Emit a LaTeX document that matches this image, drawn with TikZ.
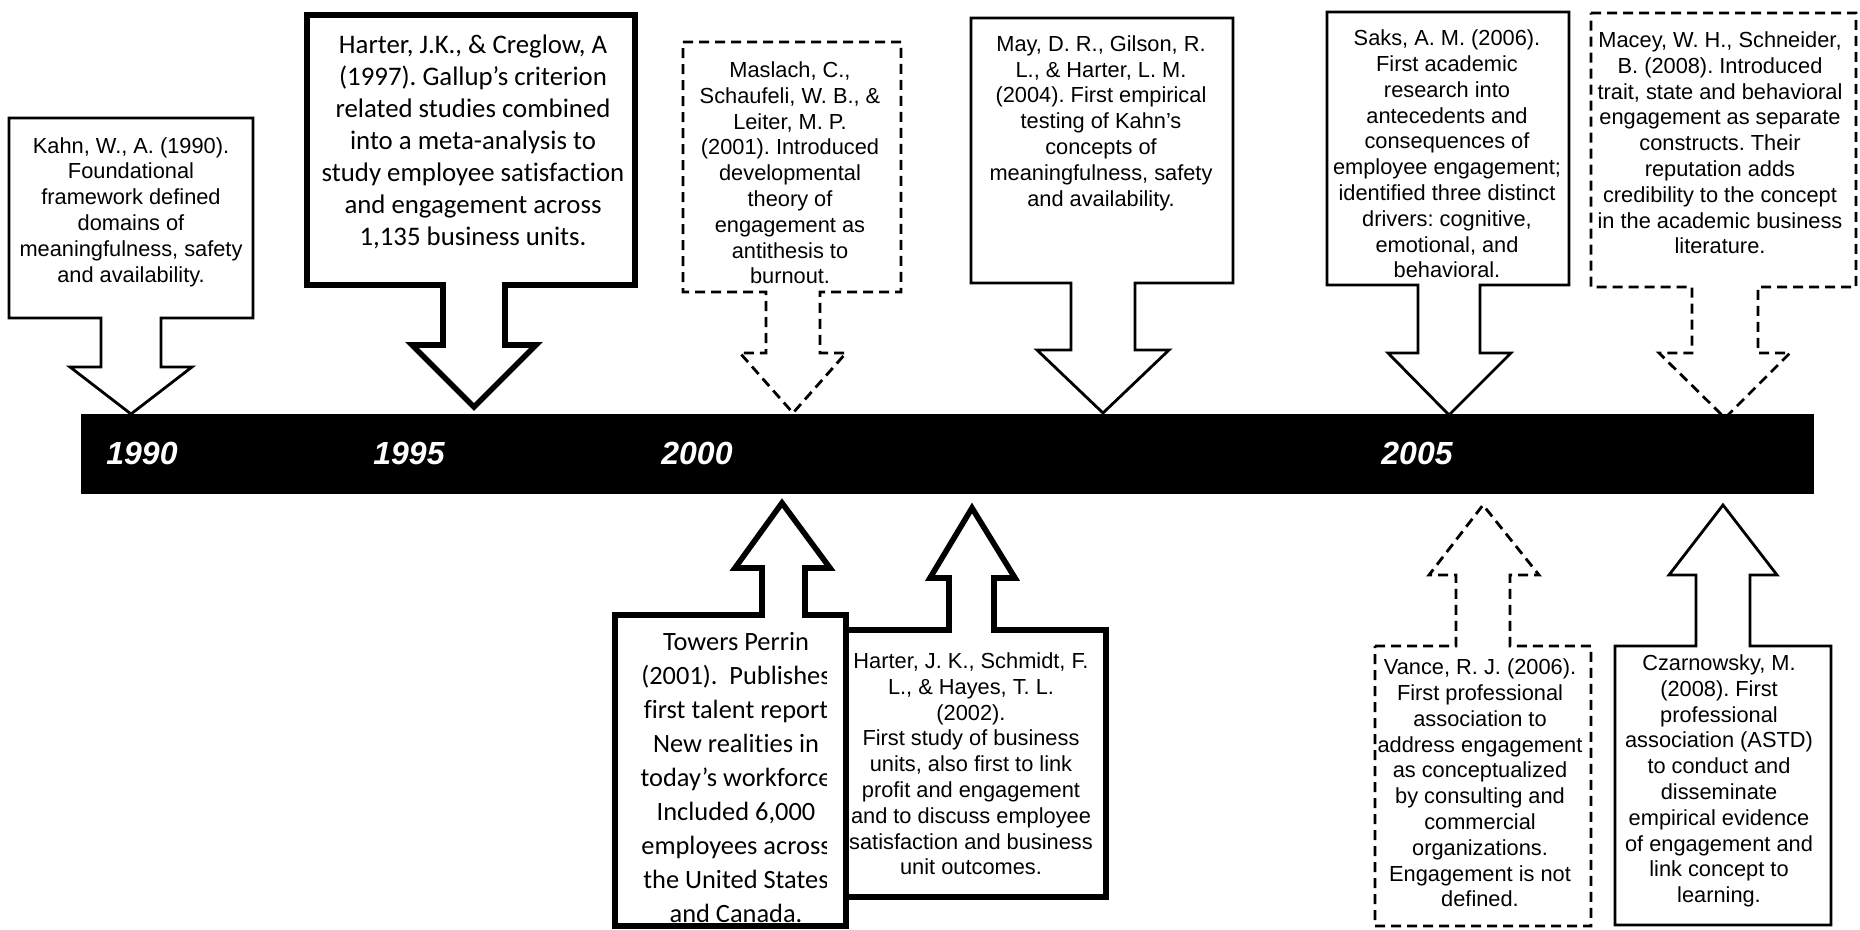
\documentclass[tikz,border=0pt]{standalone}
\usepackage{fontspec}
\setmainfont{Liberation Sans}
\newfontfamily\calibrifont[Ligatures=NoCommon]{Carlito}
\usepackage{tikz}
\frenchspacing

\tikzset{
  solidbox/.style={draw=black, fill=white, line width=1.4pt},
  heavybox/.style={draw=black, fill=white, line width=2.8pt},
  dashbox/.style={draw=black, fill=white, line width=1.4pt, dash pattern=on 5pt off 3pt},
  artext/.style={align=center, inner sep=0pt, font=\fontsize{10.9}{12.9}\selectfont},
  cbtext/.style={align=center, inner sep=0pt, font=\calibrifont\fontsize{13.4}{16}\selectfont},
  yearlabel/.style={text=white, inner sep=0pt, font=\fontsize{16}{18}\selectfont\bfseries\itshape}
}

\begin{document}
\begin{tikzpicture}[x=0.5pt, y=-0.5pt]
             \useasboundingbox (0,0) rectangle (1860,930);

             % callouts above the bar
             \draw[solidbox] (9,118) -- (253,118) -- (253,318) -- (161,318) -- (161,367) -- (192,367)
                   -- (131,414) -- (70,367) -- (101,367) -- (101,318) -- (9,318) -- cycle;
             \node[artext] (kahn) at (131,212) {Kahn, W., A. (1990).\\ Foundational\\ framework defined\\ domains of\\ meaningfulness, safety\\ and availability.};

             \draw[heavybox] (307,15) -- (635,15) -- (635,285) -- (505,285) -- (505,345) -- (536,345)
                   -- (474,407) -- (412,345) -- (443,345) -- (443,285) -- (307,285) -- cycle;
             \node[cbtext] (harter97) at (473,142) {Harter, J.K., \& Creglow, A\\ (1997). Gallup’s criterion\\ related studies combined\\ into a meta-analysis to\\ study employee satisfaction\\ and engagement across\\ 1,135 business units.};

             \draw[dashbox] (683,42) -- (901,42) -- (901,292) -- (820,292) -- (820,353) -- (846,353)
                   -- (793,413) -- (740,353) -- (766,353) -- (766,292) -- (683,292) -- cycle;
             \node[artext] (maslach) at (790,173) {Maslach, C.,\\ Schaufeli, W. B., \&\\ Leiter, M. P.\\ (2001). Introduced\\ developmental\\ theory of\\ engagement as\\ antithesis to\\ burnout.};

             \draw[solidbox] (971,18) -- (1233,18) -- (1233,283) -- (1135,283) -- (1135,350) -- (1169,350)
                   -- (1103,413) -- (1037,350) -- (1071,350) -- (1071,283) -- (971,283) -- cycle;
             \node[artext] (may) at (1101,123) {May, D. R., Gilson, R.\\ L., \& Harter, L. M.\\ (2004). First empirical\\ testing of Kahn’s\\ concepts of\\ meaningfulness, safety\\ and availability.};

             \draw[solidbox] (1327,12) -- (1569,12) -- (1569,285) -- (1480,285) -- (1480,353) -- (1511,353)
                   -- (1449,415) -- (1388,353) -- (1418,353) -- (1418,285) -- (1327,285) -- cycle;
             \node[artext] (saks) at (1447,154) {Saks, A. M. (2006).\\ First academic\\ research into\\ antecedents and\\ consequences of\\ employee engagement;\\ identified three distinct\\ drivers: cognitive,\\ emotional, and\\ behavioral.};

             \draw[dashbox] (1591,13) -- (1856,13) -- (1856,287) -- (1758,287) -- (1758,353) -- (1790,353)
                   -- (1725,418) -- (1659,353) -- (1692,353) -- (1692,287) -- (1591,287) -- cycle;
             \node[artext] (macey) at (1720,143) {Macey, W. H., Schneider,\\ B. (2008). Introduced\\ trait, state and behavioral\\ engagement as separate\\ constructs. Their\\ reputation adds\\ credibility to the concept\\ in the academic business\\ literature.};

             % the time line
             \fill[black] (81,414) rectangle (1814,494);
             \node[yearlabel] (y1990) at (142,453) {1990};
             \node[yearlabel] (y1995) at (409,453) {1995};
             \node[yearlabel] (y2000) at (697,453) {2000};
             \node[yearlabel] (y2005) at (1417,453) {2005};

             % callouts below the bar
             \draw[heavybox] (846,630) -- (949,630) -- (949,578) -- (930,578) -- (972,508) -- (1015,578)
                   -- (994,578) -- (994,630) -- (1106,630) -- (1106,897) -- (846,897) -- cycle;
             \node[artext] (harter02) at (971,764) {Harter, J. K., Schmidt, F.\\ L., \& Hayes, T. L.\\ (2002).\\ First study of business\\ units, also first to link\\ profit and engagement\\ and to discuss employee\\ satisfaction and business\\ unit outcomes.};

             \draw[heavybox] (615,615) -- (762,615) -- (762,568) -- (735,568) -- (782,503) -- (830,568)
                   -- (805,568) -- (805,615) -- (846,615) -- (846,926) -- (615,926) -- cycle;
             \begin{scope}
               \clip (618,618) rectangle (826,924);
               \node[cbtext, font=\calibrifont\fontsize{13.2}{17}\selectfont] (towers) at (736,778) {Towers Perrin\\ (2001).\ \ Publishes\\ first talent report\\ New realities in\\ today’s workforce\\ Included 6,000\\ employees across\\ the United States\\ and Canada.};
             \end{scope}

             \draw[dashbox] (1375,646) -- (1456,646) -- (1456,575) -- (1429,575) -- (1483,505) -- (1539,575)
                   -- (1510,575) -- (1510,646) -- (1591,646) -- (1591,926) -- (1375,926) -- cycle;
             \node[artext] (vance) at (1480,783) {Vance, R. J. (2006).\\ First professional\\ association to\\ address engagement\\ as conceptualized\\ by consulting and\\ commercial\\ organizations.\\ Engagement is not\\ defined.};

             \draw[solidbox] (1615,646) -- (1696,646) -- (1696,575) -- (1669,575) -- (1723,505) -- (1777,575)
                   -- (1750,575) -- (1750,646) -- (1831,646) -- (1831,925) -- (1615,925) -- cycle;
             \node[artext] (czar) at (1719,781) {Czarnowsky, M.\\ (2008). First\\ professional\\ association (ASTD)\\ to conduct and\\ disseminate\\ empirical evidence\\ of engagement and\\ link concept to\\ learning.};
\end{tikzpicture}
\end{document}
